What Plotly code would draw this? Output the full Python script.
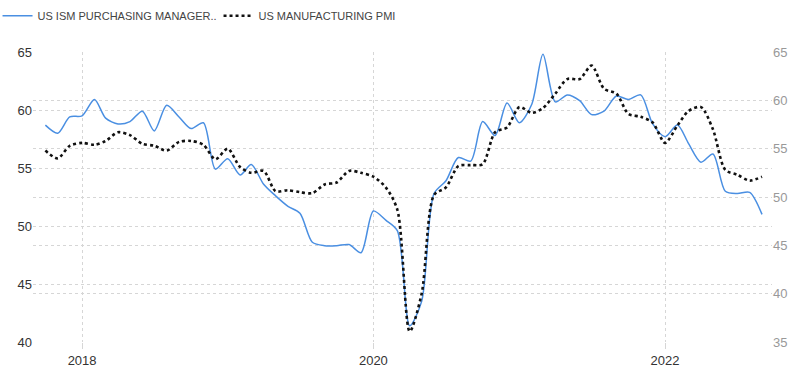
import pandas as pd
import plotly.graph_objects as go

dates = pd.date_range("2017-10-01", periods=60, freq="MS")

ism_pmi = [
    58.7, 58.0, 59.4,
    59.5, 60.9, 59.3, 58.8, 59.0, 59.9, 58.2, 60.4, 59.4, 58.4, 58.9, 54.9,
    55.8, 54.4, 55.3, 53.6, 52.6, 51.7, 51.1, 48.6, 48.3, 48.3, 48.4, 47.7,
    51.3, 50.5, 49.6, 41.4, 43.5, 52.8, 53.9, 55.9, 55.6, 59.0, 57.8, 60.6,
    58.9, 60.5, 64.8, 60.7, 61.3, 60.8, 59.6, 59.9, 61.2, 60.9, 61.3, 58.8,
    57.7, 58.7, 57.1, 55.5, 56.2, 53.0, 52.8, 52.9, 51.0,
]

mfg_pmi = [
    54.8, 54.0, 55.3,
    55.6, 55.4, 55.8, 56.7, 56.4, 55.5, 55.3, 54.8, 55.7, 55.8, 55.4, 53.9,
    55.0, 53.1, 52.5, 52.7, 50.6, 50.7, 50.5, 50.4, 51.3, 51.5, 52.7, 52.5,
    52.1, 51.0, 48.7, 36.1, 40.0, 50.2, 51.0, 53.2, 53.3, 53.4, 56.7, 57.2,
    59.3, 58.7, 59.2, 60.7, 62.2, 62.2, 63.6, 61.2, 60.7, 58.6, 58.3, 57.7,
    55.6, 57.4, 58.9, 59.3, 57.0, 52.8, 52.3, 51.7, 52.1,
]

left_ticks = [40, 45, 50, 55, 60, 65]
right_ticks = [35, 40, 45, 50, 55, 60, 65]

FONT = "Liberation Sans, Arial, sans-serif"
GRID = "#d6d6d6"

fig = go.Figure()
fig.add_trace(go.Scatter(
    x=dates, y=ism_pmi, name="US ISM PURCHASING MANAGER..",
    mode="lines", line=dict(color="#4a8fe2", width=1.5, shape="spline", smoothing=0.8),
    yaxis="y",
))
fig.add_trace(go.Scatter(
    x=dates, y=mfg_pmi, name="US MANUFACTURING PMI",
    mode="lines", line=dict(color="#111111", width=2.6, dash="dot", shape="spline", smoothing=0.8),
    yaxis="y2",
))

fig.update_layout(
    width=800, height=370,
    margin=dict(l=33, r=28, t=52, b=28, autoexpand=False),
    paper_bgcolor="white", plot_bgcolor="white",
    font=dict(family=FONT, size=13, color="#333333"),
    showlegend=True,
    legend=dict(
        orientation="h", xref="paper", yref="paper",
        x=-0.048, y=1.175, xanchor="left", yanchor="top",
        font=dict(family=FONT, size=11, color="#444444"),
        bgcolor="rgba(0,0,0,0)", itemwidth=30, tracegroupgap=0,
        entrywidth=176, entrywidthmode="pixels",
    ),
    xaxis=dict(
        type="date", range=["2017-08-31", "2022-09-26"],
        tick0="2018-01-01", dtick="M24", tickformat="%Y",
        showgrid=True, gridcolor=GRID, griddash="dot", gridwidth=1,
        ticks="outside", ticklen=6, tickcolor=GRID,
        showline=False, zeroline=False, automargin=False,
        tickfont=dict(size=13, color="#333333"),
    ),
    yaxis=dict(
        range=[40, 65], tickvals=left_ticks,
        showgrid=True, gridcolor=GRID, griddash="dot", gridwidth=1,
        zeroline=False, showline=False, ticks="", automargin=False,
        tickfont=dict(size=13, color="#333333"),
    ),
    yaxis2=dict(
        range=[35, 65], tickvals=right_ticks, overlaying="y", side="right",
        showgrid=True, gridcolor=GRID, griddash="dot", gridwidth=1,
        zeroline=False, showline=False, ticks="", automargin=False,
        tickfont=dict(size=13, color="#999999"),
    ),
)

fig.write_html(
    "out.html",
    config={"displayModeBar": False},
    post_script="document.body.style.margin='0';document.body.style.padding='0';",
)
